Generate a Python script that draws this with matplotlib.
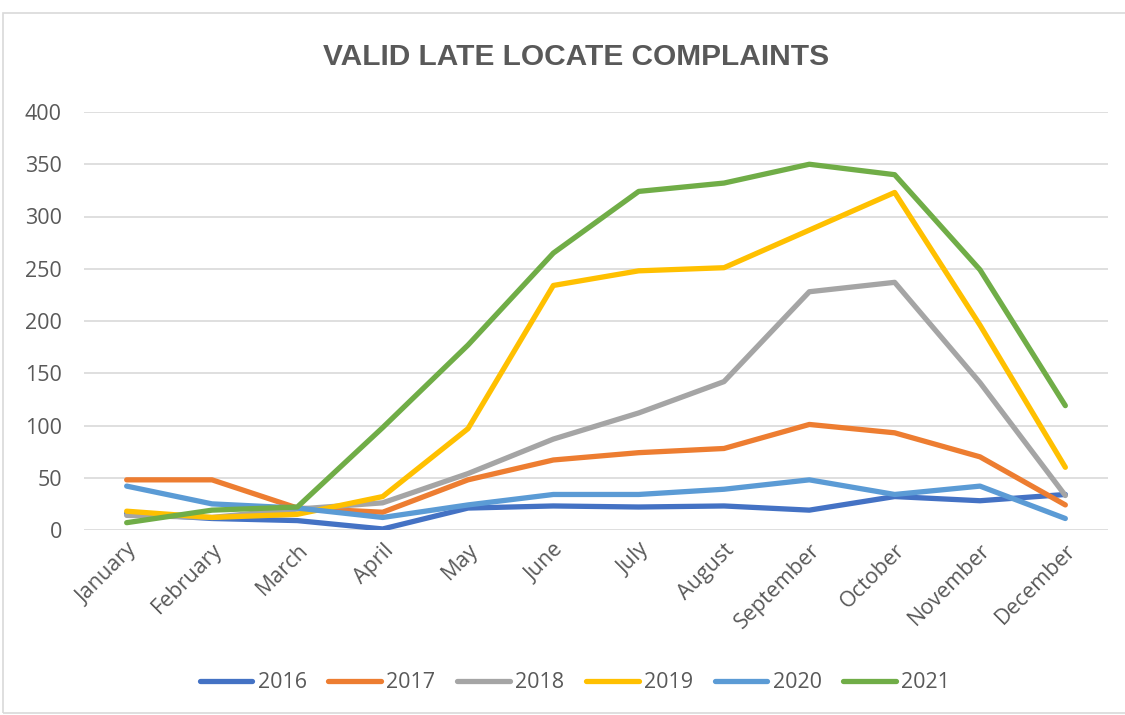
import matplotlib
matplotlib.use('Agg')
import matplotlib.pyplot as plt
from matplotlib.patches import Rectangle

months = ['January', 'February', 'March', 'April', 'May', 'June', 'July',
          'August', 'September', 'October', 'November', 'December']
years = ['2016', '2017', '2018', '2019', '2020', '2021']

v2016 = [16, 11, 9, 1, 21, 23, 22, 23, 19, 32, 28, 34]
v2017 = [48, 48, 21, 17, 48, 67, 74, 78, 101, 93, 70, 24]
v2018 = [14, 12, 20, 26, 54, 87, 112, 142, 228, 237, 141, 33]
v2019 = [18, 12, 15, 32, 97, 234, 248, 251, 287, 323, 196, 60]
v2020 = [42, 25, 21, 12, 24, 34, 34, 39, 48, 34, 42, 11]
v2021 = [7, 19, 22, 98, 177, 265, 324, 332, 350, 340, 249, 119]

colors = ['#4472C4', '#ED7D31', '#A5A5A5', '#FFC000', '#5B9BD5', '#70AD47']
series = [v2016, v2017, v2018, v2019, v2020, v2021]

plt.rcParams['font.family'] = ['Open Sans', 'DejaVu Sans']
txt = '#595959'

fig = plt.figure(figsize=(11.25, 7.15), dpi=100)
fig.patches.append(Rectangle((3 / 1125, 0.003), 1.0, 1 - 13 / 715 - 0.003,
                             transform=fig.transFigure, fill=False,
                             edgecolor='#D9D9D9', linewidth=1.2))

ax = fig.add_axes([84 / 1125, 1 - 530 / 715, (1108 - 84) / 1125, (530 - 112) / 715])
x = list(range(len(months)))
for name, vals, c in zip(years, series, colors):
    ax.plot(x, vals, color=c, linewidth=3.8, label=name, solid_capstyle='round',
            solid_joinstyle='round')

ax.set_xlim(-0.5, 11.5)
ax.set_ylim(0, 400)
ax.set_yticks(range(0, 401, 50))
ax.grid(axis='y', color='#D9D9D9', linewidth=1.2)
ax.set_axisbelow(True)
for s in ax.spines.values():
    s.set_visible(False)
ax.tick_params(axis='both', length=0, colors=txt, labelsize=15.5)
ax.tick_params(axis='y', pad=16)
ax.set_xticks(x)
ax.set_xticklabels(months, rotation=45, ha='right', rotation_mode='anchor')
ax.tick_params(axis='x', pad=7)

fig.text(0.512, 1 - 57 / 715, 'VALID LATE LOCATE COMPLAINTS', ha='center', va='center',
         fontsize=21.5, fontweight='bold', color=txt,
         family=['Liberation Sans Narrow', 'Liberation Sans', 'DejaVu Sans'])

leg = fig.legend(loc='center', bbox_to_anchor=(0.511, 1 - 683 / 715), ncol=6,
                 frameon=False, fontsize=15.5, handlelength=2.45, handletextpad=0.25,
                 columnspacing=1.0)
for t in leg.get_texts():
    t.set_color(txt)

fig.savefig('out.png', dpi=100)
